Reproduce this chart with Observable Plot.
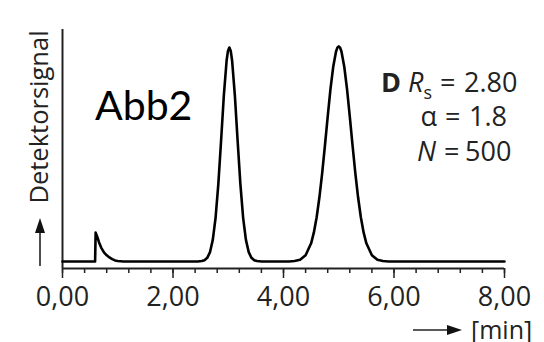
<!DOCTYPE html>
<html>
<head>
<meta charset="utf-8">
<script src="https://cdn.jsdelivr.net/npm/d3@7"></script>
<script src="https://cdn.jsdelivr.net/npm/@observablehq/plot@0.6"></script>
<style>
  html, body { margin: 0; padding: 0; background: #fff; }
  #chart { width: 544px; height: 342px; overflow: hidden; }
</style>
</head>
<body>
<div id="chart"></div>
<script>
// Retention time [min] and detector signal (arbitrary units, peak ≈ 100)
const time = [
  0, 0.59, 0.6, 0.63, 0.66, 0.7, 0.75, 0.8, 0.85, 0.9, 0.95, 1.0, 1.1,
  2.45, 2.52, 2.57, 2.62, 2.67, 2.72, 2.77, 2.82, 2.87, 2.92, 2.97, 2.995, 3.02, 3.045, 3.07,
  3.12, 3.17, 3.22, 3.27, 3.32, 3.37, 3.42, 3.47, 3.52, 3.6,
  4.1, 4.2, 4.3, 4.4, 4.5, 4.55, 4.6, 4.65, 4.7, 4.75, 4.8, 4.85, 4.9, 4.95, 4.975, 5.0, 5.025, 5.05,
  5.1, 5.15, 5.2, 5.25, 5.3, 5.35, 5.4, 5.45, 5.5, 5.6, 5.7, 5.8, 5.9, 8.0
];
const signal = [
  0, 0, 13.5, 11.5, 9.0, 6.5, 4.3, 2.9, 1.9, 1.1, 0.5, 0.2, 0,
  0, 0.2, 0.6, 1.7, 4.4, 10.1, 20.3, 36.0, 56.3, 77.5, 93.8, 98.4, 100, 98.4, 93.8,
  77.5, 56.3, 36.0, 20.3, 10.1, 4.4, 1.7, 0.6, 0.2, 0,
  0, 0.2, 0.8, 2.9, 8.5, 13.6, 20.7, 30.0, 41.3, 54.2, 67.7, 80.5, 91.0, 98.0, 99.9, 100.5, 99.9, 98.0,
  91.0, 80.5, 67.7, 54.2, 41.3, 30.0, 20.7, 13.6, 8.5, 2.9, 0.8, 0.2, 0, 0
];
const majorTicks = [0, 2, 4, 6, 8];
const minorTicks = [0, 0.4, 0.8, 1.2, 1.6, 2, 2.4, 2.8, 3.2, 3.6, 4, 4.4, 4.8, 5.2, 5.6, 6, 6.4, 6.8, 7.2, 7.6, 8];
const xDomain = [0, 8];
const yDomain = [-3.27, 108.4];
const yLabel = "Detektorsignal";
const xUnit = "[min]";
const figLabel = "Abb2";
const annot = { label: "D", rs: "2.80", alpha: "1.8", n: "500" };

const data = time.map((t, i) => ({ t, s: signal[i] }));
const fmt = d => d.toFixed(2).replace(".", ",");

const plot = Plot.plot({
  width: 544,
  height: 342,
  marginLeft: 62,
  marginRight: 40,
  marginTop: 29,
  marginBottom: 74,
  x: { domain: xDomain, label: null },
  y: { domain: yDomain, axis: null },
  style: { fontFamily: "'Open Sans', sans-serif", color: "#222", background: "white", overflow: "visible" },
  marks: [
    Plot.axisX({ ticks: minorTicks, tickSize: 5, tickFormat: () => "", strokeWidth: 1.5, stroke: "#222" }),
    Plot.axisX({ ticks: majorTicks, tickSize: 10, tickPadding: 8, tickFormat: fmt, fontSize: 27, strokeWidth: 1.5, stroke: "#222", fill: "#222" }),
    Plot.ruleX([xDomain[0]], { stroke: "#222", strokeWidth: 2 }),
    Plot.ruleY([yDomain[0]], { stroke: "#222", strokeWidth: 2 }),
    Plot.line(data, { x: "t", y: "s", stroke: "black", strokeWidth: 2.6, strokeLinejoin: "round" })
  ]
});

document.getElementById("chart").appendChild(plot);

const svg = d3.select(plot);
const g = svg.append("g")
  .attr("fill", "#222")
  .attr("font-family", "'Open Sans', sans-serif")
  .attr("text-anchor", "start");

// y-axis label and arrow
g.append("text")
  .attr("transform", "translate(48,117) rotate(-90)")
  .attr("text-anchor", "middle")
  .attr("font-size", 25.5)
  .text(yLabel);
g.append("line").attr("x1", 40).attr("x2", 40).attr("y1", 266).attr("y2", 230)
  .attr("stroke", "#222").attr("stroke-width", 1.6);
g.append("path").attr("d", "M40,218 L35,233 L45,233 Z").attr("fill", "#111");

// x-axis unit and arrow
g.append("line").attr("x1", 413).attr("x2", 450).attr("y1", 330).attr("y2", 330)
  .attr("stroke", "#222").attr("stroke-width", 1.6);
g.append("path").attr("d", "M462,330 L447,325 L447,335 Z").attr("fill", "#111");
g.append("text").attr("x", 471).attr("y", 339).attr("font-size", 25).text(xUnit);

// figure label
g.append("text").attr("x", 95).attr("y", 120)
  .attr("font-family", "Lato, sans-serif").attr("font-size", 41).attr("fill", "#000")
  .text(figLabel);

// annotation block
const a = g.append("g").attr("font-size", 27);
const l1 = a.append("text").attr("x", 432).attr("y", 92).attr("text-anchor", "end");
l1.append("tspan").attr("font-weight", "bold").text(annot.label + " ");
l1.append("tspan").attr("font-style", "italic").text("R");
l1.append("tspan").attr("font-size", 18).attr("dy", 7).text("s");
a.append("text").attr("x", 440).attr("y", 92).text("=");
a.append("text").attr("x", 464).attr("y", 92).text(annot.rs);

a.append("text").attr("x", 437).attr("y", 126).attr("text-anchor", "end").text("α");
a.append("text").attr("x", 445).attr("y", 126).text("=");
a.append("text").attr("x", 469).attr("y", 126).text(annot.alpha);

a.append("text").attr("x", 436).attr("y", 161).attr("text-anchor", "end").attr("font-style", "italic").text("N");
a.append("text").attr("x", 444).attr("y", 161).text("=");
a.append("text").attr("x", 465).attr("y", 161).text(annot.n);
</script>
</body>
</html>
